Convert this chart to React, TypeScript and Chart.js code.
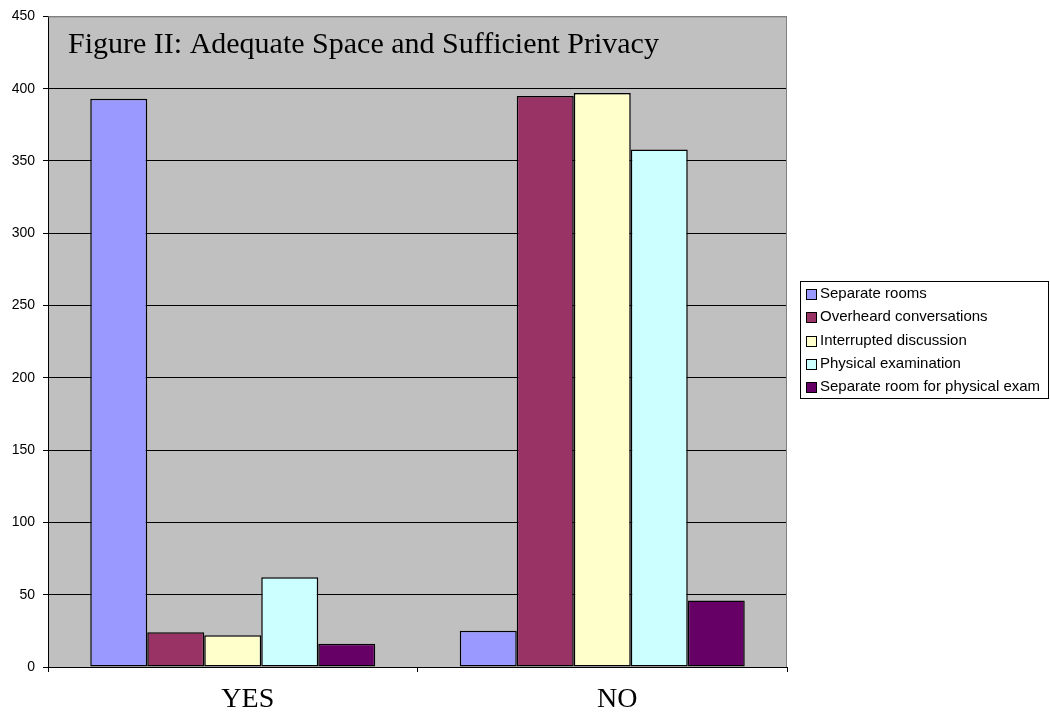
import React, { useEffect, useRef } from "react";
import { Chart, registerables } from "chart.js";

Chart.register(...registerables);

const TITLE = "Figure II: Adequate Space and Sufficient Privacy";
const categories = ["YES", "NO"];
const seriesNames = [
  "Separate rooms",
  "Overheard conversations",
  "Interrupted discussion",
  "Physical examination",
  "Separate room for physical exam",
];
const separateRooms = [393, 25];
const overheardConversations = [24, 395];
const interruptedDiscussion = [22, 397];
const physicalExamination = [62, 358];
const separateRoomExam = [16, 46];
const seriesColors = ["#9999FF", "#993366", "#FFFFCC", "#CCFFFF", "#660066"];
const yMax = 450;
const yStep = 50;

const seriesValues = [
  separateRooms,
  overheardConversations,
  interruptedDiscussion,
  physicalExamination,
  separateRoomExam,
];

const chartDecor = {
  id: "chartDecor",
  beforeDraw(chart: any) {
    const { ctx, width, height, chartArea } = chart;
    ctx.save();
    ctx.fillStyle = "#FFFFFF";
    ctx.fillRect(0, 0, width, height);
    ctx.fillStyle = "#C0C0C0";
    ctx.fillRect(chartArea.left, chartArea.top, chartArea.right - chartArea.left, chartArea.bottom - chartArea.top);
    ctx.restore();
  },
  afterDraw(chart: any) {
    const { ctx, chartArea } = chart;
    ctx.save();
    // plot area border (top/right)
    ctx.strokeStyle = "#808080";
    ctx.lineWidth = 1;
    ctx.beginPath();
    ctx.moveTo(chartArea.left, chartArea.top + 0.5);
    ctx.lineTo(chartArea.right - 0.5, chartArea.top + 0.5);
    ctx.lineTo(chartArea.right - 0.5, chartArea.bottom);
    ctx.stroke();
    // title
    ctx.fillStyle = "#000000";
    ctx.font = '30px "Liberation Serif", "Times New Roman", serif';
    ctx.textAlign = "left";
    ctx.textBaseline = "alphabetic";
    ctx.fillText(TITLE, chartArea.left + 20, chartArea.top + 37);
    // legend
    const bx = 800.5, by = 281.5, bw = 248, bh = 117;
    ctx.strokeStyle = "#000000";
    ctx.strokeRect(bx, by, bw, bh);
    ctx.font = '15px "Liberation Sans", Arial, sans-serif';
    ctx.textBaseline = "middle";
    chart.data.datasets.forEach((ds: any, i: number) => {
      const yc = 294 + i * 23.3;
      ctx.fillStyle = ds.backgroundColor;
      ctx.fillRect(806, Math.round(yc - 5), 11, 11);
      ctx.strokeStyle = "#000000";
      ctx.strokeRect(806.5, Math.round(yc - 5) + 0.5, 10, 10);
      ctx.fillStyle = "#000000";
      ctx.fillText(ds.label, 820, yc);
    });
    ctx.restore();
  },
};

export default function App() {
  const ref = useRef<HTMLCanvasElement | null>(null);
  useEffect(() => {
    if (!ref.current) return;
    const chart = new Chart(ref.current, {
      type: "bar",
      data: {
        labels: categories,
        datasets: seriesNames.map((name, i) => ({
          label: name,
          data: seriesValues[i],
          backgroundColor: seriesColors[i],
          borderColor: "#000000",
          borderWidth: 1.5,
          borderSkipped: false,
          categoryPercentage: 0.7713,
          barPercentage: 1.0,
        })),
      },
      options: {
        animation: false,
        responsive: true,
        maintainAspectRatio: false,
        layout: { padding: { left: 0, right: 263, top: 14, bottom: 0 } },
        plugins: {
          legend: { display: false },
          title: { display: false },
          tooltip: { enabled: false },
        },
        scales: {
          x: {
            grid: {
              offset: true,
              drawOnChartArea: false,
              drawTicks: true,
              tickLength: 5,
              color: "#000000",
            },
            border: { color: "#000000", width: 1 },
            ticks: {
              color: "#000000",
              font: { family: '"Liberation Serif", "Times New Roman", serif', size: 28 },
              padding: 11,
              labelOffset: 15,
              maxRotation: 0,
            },
            afterFit: (scale: any) => {
              scale.height = 46;
            },
          },
          y: {
            min: 0,
            max: yMax,
            ticks: {
              stepSize: yStep,
              color: "#000000",
              font: { family: '"Liberation Sans", Arial, sans-serif', size: 14 },
              padding: 8,
            },
            grid: {
              color: (c: any) => (c.tick && c.tick.value === yMax ? "#808080" : "#000000"),
              tickColor: "#000000",
              tickLength: 5,
              lineWidth: 1,
            },
            border: { color: "#000000", width: 1 },
            afterFit: (scale: any) => {
              scale.width = 48;
            },
          },
        },
      },
      plugins: [chartDecor],
    });
    return () => chart.destroy();
  }, []);
  return (
    <div style={{ position: "absolute", left: 0, top: 0, width: 1050, height: 713 }}>
      <canvas ref={ref} />
    </div>
  );
}
